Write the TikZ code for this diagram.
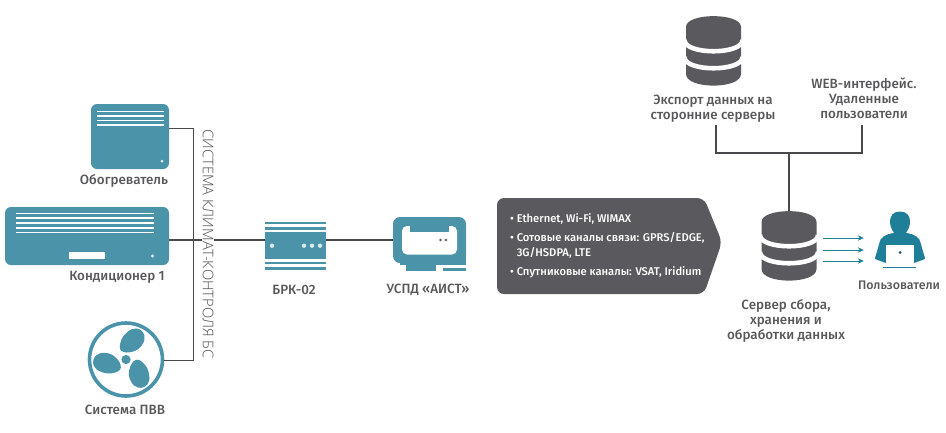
\documentclass[tikz,border=0pt]{standalone}
\usepackage{fontspec}
\setmainfont{Fira Sans}[BoldFont=* Medium]
\newfontfamily\lightf{Open Sans Light}
\usetikzlibrary{arrows.meta,calc}
\definecolor{teal1}{HTML}{4A93A8}
\definecolor{teal2}{HTML}{1F7F98}
\definecolor{gr}{HTML}{5A5A5E}
\definecolor{txt}{HTML}{58585A}
\tikzset{
 lbl/.style={text=txt,font=\fontsize{13.4}{15}\selectfont\bfseries,align=center,inner sep=0pt},
 wire/.style={draw=gr!80!black,line width=1.05pt},
 tealbox/.style={fill=teal1,draw=none,rounded corners=6pt,inner sep=0pt},
 hole/.style={draw=white,line width=1.6pt},
 boxt/.style={text=white,font=\fontsize{11.2}{15}\selectfont\bfseries,align=left,anchor=west,inner sep=0pt},
}
\newcommand{\dbicon}[3]{%
 \node[inner sep=0pt,minimum width=55pt,minimum height=70pt] (#1) at (#2,#3+35) {};
 \fill[gr] (#2-27.5,#3+11) .. controls (#2-27.5,#3-3.5) and (#2+27.5,#3-3.5) .. (#2+27.5,#3+11)
   -- (#2+27.5,#3+58) .. controls (#2+27.5,#3+73.5) and (#2-27.5,#3+73.5) .. (#2-27.5,#3+58) -- cycle;
 \draw[white,line width=4.6pt] (#2-29,#3+24) .. controls (#2-29,#3+39) and (#2+29,#3+39) .. (#2+29,#3+24);
 \draw[white,line width=4.6pt] (#2-29,#3+41) .. controls (#2-29,#3+56) and (#2+29,#3+56) .. (#2+29,#3+41);
}
\begin{document}
\begin{tikzpicture}[x=1pt,y=-1pt]
\useasboundingbox (0,0) rectangle (946,432);

% heater
\node[tealbox,minimum width=78pt,minimum height=65pt] (heater) at (130,136.5) {};
\foreach \yy in {111.5,116,120.5,125} {\draw[hole] (97,\yy) -- (164,\yy);}
\fill[white!85!teal1] (162,161) circle (1.5);
\node[lbl] (heaterl) at (124,181) {Обогреватель};

% air conditioner
\node[tealbox,minimum width=164pt,minimum height=58pt] (ac) at (87,236) {};
\foreach \yy in {213.5,218.2,223,227.7,232.3} {\draw[hole] (16,\yy) -- (154,\yy);}
\fill[white] (69,252) rectangle (105,258.5);
\fill[white!85!teal1] (152.5,256) circle (1.6);
\node[lbl] (acl) at (117,277) {Кондиционер 1};

% fan
\node[circle,draw=teal1,line width=3.6pt,minimum size=73pt,inner sep=0pt] (fan) at (126,359.5) {};
\fill[teal1] (126,359.5) circle (4.6);
\foreach \ang in {0,120,240} {
 \begin{scope}[shift={(126,359.5)},rotate=\ang,scale=1.12]
  \fill[teal1] plot[smooth cycle,tension=0.75] coordinates {(-4,-7.7) (-4.7,-16) (1,-24.3) (9.5,-27.7) (16.3,-22) (14.3,-13) (6,-7)};
 \end{scope}
}
\node[lbl] (fanl) at (125,410) {Система ПВВ};

% connectors behind the bus label
\coordinate (hp) at (heater.east |- 0,128.5);
\coordinate (bt) at (193.5,128.5);
\coordinate (bb) at (193.5,360.5);
\coordinate (acp) at (ac.east |- 0,240);
\node[inner sep=0pt,minimum width=61pt,minimum height=27pt] (brkanchor) at (295.5,245.5) {};
\coordinate (brkp) at (brkanchor.west |- 0,240);
\draw[wire] (hp) -- (bt) -- (bb) -- (fan.east |- bb);
\draw[wire] (acp) -- (brkp);

% bus label
\node[font=\lightf\fontsize{14.7}{15}\selectfont,text=txt!90!black,rotate=-90,inner sep=0pt,fill=white,inner ysep=1pt] (bus) at (208,244) {СИСТЕМА КЛИМАТ-КОНТРОЛЯ БС};

% BRK
\node[fill=teal1,inner sep=0pt,minimum width=61pt,minimum height=27pt] (brk) at (295.5,245.5) {};
\foreach \yy in {223,228.5,263,268.5} {\fill[teal1] (265,\yy-1.3) rectangle (326,\yy+1.3);}
\foreach \xx in {272,304,312,320} {\fill[white!80!teal1] (\xx,245.7) circle (2.2);}
\node[lbl] (brkl) at (294,290) {БРК-02};

% AIST
\node[inner sep=0pt,minimum width=73pt,minimum height=54pt] (aist) at (429.5,244) {};
\fill[teal1,rounded corners=7pt] (393,217) rectangle (466,263);
\fill[teal1] (400,255) rectangle (466,265);
\fill[teal1] (406,260) rectangle (436,271);
\fill[teal1] (443,268) rectangle (466,271);
\fill[white,rounded corners=5pt] (402,226) rectangle (457,254.5);
\fill[teal1] (410,222) rectangle (449,232);
\fill[gr] (440.5,240) circle (1.3) (446,240) circle (1.3);
\node[lbl] (aistl) at (428,290) {УСПД «АИСТ»};
\coordinate (brkq) at (brk.east |- 0,240);
\coordinate (aistp) at (aist.west |- 0,240);
\draw[wire] (brkq) -- (aistp);

% server DBs
\dbicon{extdb}{713.5}{16}
\node[lbl] (extl) at (713,109) {Экспорт данных на\\сторонние серверы};
\node[lbl] (webl) at (864,98) {WEB-интерфейс.\\Удаленные\\пользователи};
\dbicon{server}{789}{211}
\node[lbl] (serverl) at (786,320.5) {Сервер сбора,\\хранения и\\обработки данных};

% info arrow box
\fill[gr,rounded corners=7pt] (497,198) -- (704,198) -- (722,242) -- (704,294) -- (497,294) -- cycle;
\node[boxt] (b1) at (510,219) {• Ethernet, Wi-Fi, WIMAX};
\node[boxt] (b2) at (510,245.5) {• Сотовые каналы связи: GPRS/EDGE,\\\hphantom{• }3G/HSDPA, LTE};
\node[boxt] (b3) at (510,272) {• Спутниковые каналы: VSAT, Iridium};

% user
\node[inner sep=0pt,minimum width=50pt,minimum height=57pt] (user) at (900,240) {};
\fill[teal2] (900,211.5) .. controls (907,211.5) and (910.5,216) .. (910,223) .. controls (909.5,228) and (907,231) .. (906,233)
  .. controls (914,234) and (920,237) .. (921,244) .. controls (922,250) and (925,256) .. (925,259)
  -- (914,263) -- (886,263) -- (875,259) .. controls (875,256) and (878,250) .. (879,244)
  .. controls (880,237) and (886,234) .. (894,233) .. controls (893,231) and (890.5,228) .. (890,223)
  .. controls (889.5,216) and (893,211.5) .. (900,211.5) -- cycle;
\fill[white] (886,245) rectangle (914,266);
\fill[teal2] (883,266.8) rectangle (916,268.4);
\fill[teal2!70!black] (900,252.5) circle (1.5);
\node[lbl,font=\fontsize{12.4}{14}\selectfont\bfseries] (userl) at (899,285) {Пользователи};

% upper connectors
\coordinate (e1) at (716,125);
\coordinate (e2) at (716,153);
\coordinate (w1) at (862,125);
\coordinate (w2) at (862,153);
\coordinate (j) at (server.north |- e2);
\draw[wire] (e1) -- (e2) -- (w2) -- (w1);
\draw[wire] (j) -- (server.north);
\foreach \yy in {238,250,261} {
 \coordinate (as) at ($(server.east |- 0,\yy)+(6,0)$);
 \coordinate (ae) at ($(user.west |- 0,\yy)+(-11,0)$);
 \draw[teal2,line width=1pt,-{Stealth[length=6pt,width=5.5pt]}] (as) -- (ae);
}
\end{tikzpicture}
\end{document}
